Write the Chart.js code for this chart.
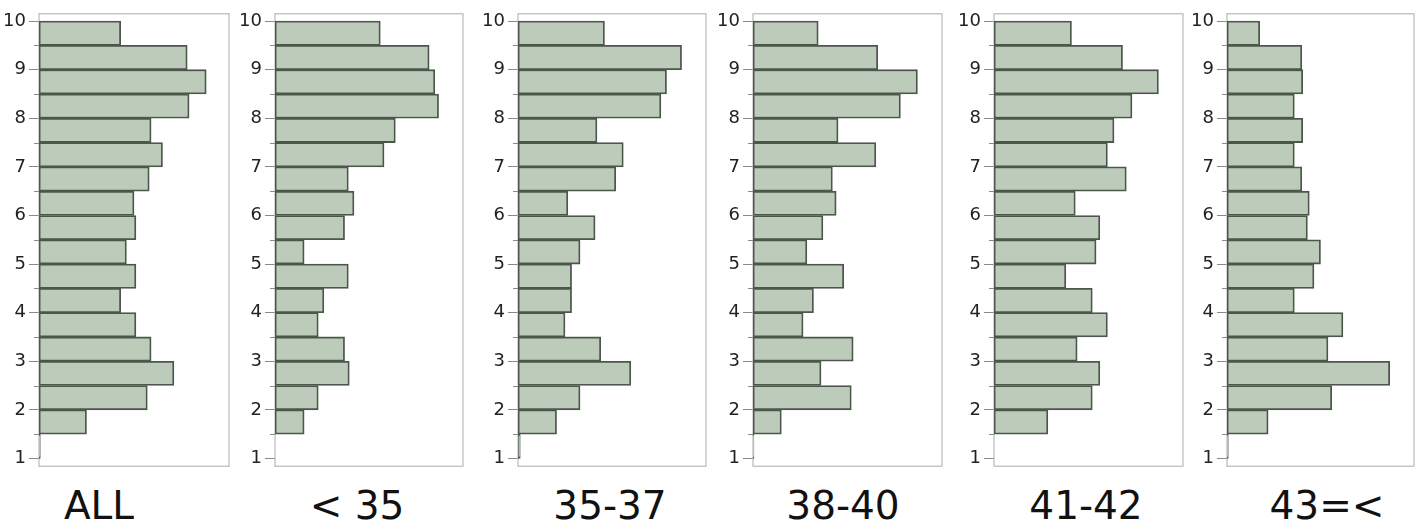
<!DOCTYPE html>
<html>
<head>
<meta charset="utf-8">
<script src="https://cdn.jsdelivr.net/npm/chart.js@4/dist/chart.umd.min.js"></script>
<style>
  html, body { margin: 0; padding: 0; background: #ffffff; }
  #wrap { position: relative; width: 1418px; height: 526px; overflow: hidden; }
  canvas { position: absolute; top: 0; }
  .lbl { position: absolute; top: 483px; font-family: "DejaVu Sans", Verdana, sans-serif; font-size: 39px; color: #111; white-space: nowrap; transform: translateX(-50%); line-height: 46px; }
</style>
</head>
<body>
<div id="wrap"></div>
<script>
// ---- data ----
const groupNames = ["ALL", "< 35", "35-37", "38-40", "41-42", "43=<"];
// bin centres (bins of width 0.5 from 1 to 10), low to high
const binCenters = [1.25, 1.75, 2.25, 2.75, 3.25, 3.75, 4.25, 4.75, 5.25, 5.75, 6.25, 6.75, 7.25, 7.75, 8.25, 8.75, 9.25, 9.75];
const tickValues = [1, 1.5, 2, 2.5, 3, 3.5, 4, 4.5, 5, 5.5, 6, 6.5, 7, 7.5, 8, 8.5, 9, 9.5, 10];
const valuesAll   = [0.07, 2.5, 5.7, 7.1, 5.9, 5.1, 4.3, 5.1, 4.6, 5.1, 5.0, 5.8, 6.5, 5.9, 7.9, 8.8, 7.8, 4.3];
const valuesLt35  = [0, 1.55, 2.3, 3.95, 3.7, 2.3, 2.6, 3.9, 1.55, 3.7, 4.2, 3.9, 5.8, 6.4, 8.7, 8.5, 8.2, 5.6];
const values35_37 = [0.12, 2.05, 3.3, 6.0, 4.4, 2.5, 2.85, 2.85, 3.3, 4.1, 2.65, 5.2, 5.6, 4.2, 7.6, 7.9, 8.7, 4.6];
const values38_40 = [0.05, 1.5, 5.2, 3.6, 5.3, 2.65, 3.2, 4.8, 2.85, 3.7, 4.4, 4.2, 6.5, 4.5, 7.8, 8.7, 6.6, 3.45];
const values41_42 = [0, 2.85, 5.2, 5.6, 4.4, 6.0, 5.2, 3.8, 5.4, 5.6, 4.3, 7.0, 6.0, 6.35, 7.3, 8.7, 6.8, 4.1];
const values43up  = [0.07, 2.2, 5.6, 8.7, 5.4, 6.2, 3.6, 4.65, 5.0, 4.3, 4.4, 4.0, 3.6, 4.05, 3.6, 4.05, 4.0, 1.75];
const seriesList = [valuesAll, valuesLt35, values35_37, values38_40, values41_42, values43up];

// ---- layout (pixels) ----
const panelBoxes = [
  { left: 38.5, top: 11, right: 228, bottom: 469 },
  { left: 275, top: 9.5, right: 463, bottom: 468 },
  { left: 517.5, top: 10, right: 705, bottom: 468 },
  { left: 752.5, top: 8.5, right: 941, bottom: 467 },
  { left: 994, top: 10, right: 1183, bottom: 467 },
  { left: 1227, top: 10, right: 1414, bottom: 468 }
];
const labelCenters = [99, 357, 610, 843, 1086, 1327];
const AXIS_W = 38, CANVAS_H = 480, RIGHT_PAD = 2;

const boxPlugin = {
  id: 'boxPlugin',
  beforeDatasetsDraw(chart) {
    const a = chart.chartArea, ctx = chart.ctx;
    ctx.save();
    ctx.strokeStyle = '#b9b9b9';
    ctx.lineWidth = 1.2;
    ctx.strokeRect(a.left, a.top, a.right - a.left, a.bottom - a.top);
    ctx.restore();
  },
  afterDraw(chart) {
    // minor (half-step) ticks
    const y = chart.scales.y, a = chart.chartArea, ctx = chart.ctx;
    ctx.save();
    ctx.strokeStyle = '#8a8a8a';
    ctx.lineWidth = 1;
    y.ticks.forEach(t => {
      if (!Number.isInteger(t.value)) {
        const py = Math.round(y.getPixelForValue(t.value)) + 0.5;
        ctx.beginPath();
        ctx.moveTo(a.left - 5, py);
        ctx.lineTo(a.left, py);
        ctx.stroke();
      }
    });
    ctx.restore();
  }
};

const wrap = document.getElementById('wrap');
panelBoxes.forEach((b, i) => {
  const cw = Math.round(AXIS_W + (b.right - b.left) + RIGHT_PAD);
  const cv = document.createElement('canvas');
  cv.width = cw; cv.height = CANVAS_H;
  cv.style.width = cw + 'px'; cv.style.height = CANVAS_H + 'px';
  cv.style.left = (b.left - AXIS_W) + 'px';
  wrap.appendChild(cv);

  const lab = document.createElement('div');
  lab.className = 'lbl';
  lab.style.left = labelCenters[i] + 'px';
  lab.textContent = groupNames[i];
  wrap.appendChild(lab);

  new Chart(cv, {
    type: 'bar',
    data: {
      datasets: [{
        label: groupNames[i],
        data: binCenters.map((c, k) => ({ y: c, x: seriesList[i][k] })),
        backgroundColor: '#bdcbba',
        borderColor: '#4b574b',
        borderWidth: 1.8,
        borderSkipped: false,
        barPercentage: 1,
        categoryPercentage: 1
      }]
    },
    options: {
      indexAxis: 'y',
      responsive: false,
      animation: false,
      devicePixelRatio: 1,
      layout: { padding: { left: 0, right: RIGHT_PAD, top: b.top, bottom: CANVAS_H - b.bottom } },
      plugins: { legend: { display: false }, tooltip: { enabled: false }, title: { display: false } },
      scales: {
        x: { type: 'linear', display: false, min: 0, max: 10 },
        y: {
          type: 'linear',
          offset: false,
          min: 0.84, max: 10.15,
          afterBuildTicks: (s) => { s.ticks = tickValues.map(v => ({ value: v })); },
          afterFit: (s) => { s.width = AXIS_W; },
          border: { display: false },
          grid: {
            offset: false,
            drawOnChartArea: false,
            drawTicks: true,
            tickLength: 10,
            tickColor: (ctx) => (ctx.tick && Number.isInteger(ctx.tick.value)) ? '#8a8a8a' : 'rgba(0,0,0,0)'
          },
          ticks: {
            autoSkip: false,
            padding: 3,
            color: '#222222',
            font: { family: '"DejaVu Sans", Verdana, sans-serif', size: 18 },
            callback: (v) => Number.isInteger(v) ? String(v) : ''
          }
        }
      }
    },
    plugins: [boxPlugin]
  });
});
</script>
</body>
</html>
